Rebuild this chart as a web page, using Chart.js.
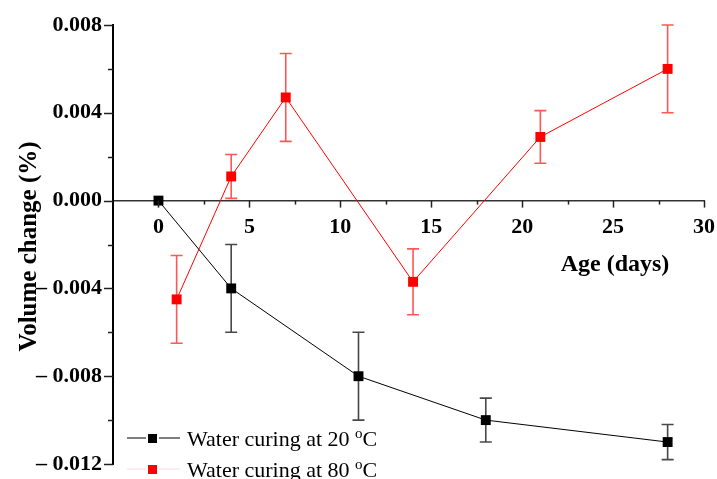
<!DOCTYPE html>
<html>
<head>
<meta charset="utf-8">
<script src="https://cdn.jsdelivr.net/npm/chart.js@4/dist/chart.umd.min.js"></script>
<style>
  html, body { margin: 0; padding: 0; background: #fff; }
  #wrap { width: 717px; height: 479px; }
</style>
</head>
<body>
<div id="wrap"><canvas id="c" width="717" height="479"></canvas></div>
<script>
// Curing age (days) and measured volume change (%) with standard deviations
const ages20 = [0, 4, 11, 18, 28];
const vol20 = [0, -0.004, -0.008, -0.010, -0.011];
const err20 = [0, 0.002, 0.002, 0.001, 0.0008];

const ages80 = [1, 4, 7, 14, 21, 28];
const vol80 = [-0.0045, 0.0011, 0.0047, -0.0037, 0.0029, 0.0060];
const err80 = [0.002, 0.001, 0.002, 0.0015, 0.0012, 0.002];

const seriesNames = ['Water curing at 20 ', 'Water curing at 80 '];
const xTitle = 'Age (days)';
const yTitle = 'Volume change (%)';

const SERIF = "'Liberation Serif', 'Times New Roman', serif";

const toPoints = (xs, ys) => xs.map((x, i) => ({ x: x, y: ys[i] }));

// Error bars, tick marks, axis titles and legend
const decorations = {
  id: 'decorations',
  beforeDatasetsDraw(chart) {
    const ctx = chart.ctx;
    const xs = chart.scales.x, ys = chart.scales.y;
    const sets = [
      { xv: ages20, yv: vol20, ev: err20, color: 'rgba(40,40,40,0.85)' },
      { xv: ages80, yv: vol80, ev: err80, color: 'rgba(255,30,30,0.75)' }
    ];
    ctx.save();
    ctx.lineWidth = 1.6;
    sets.forEach(s => {
      ctx.strokeStyle = s.color;
      s.xv.forEach((xv, i) => {
        if (!s.ev[i]) return;
        const px = xs.getPixelForValue(xv);
        const top = ys.getPixelForValue(s.yv[i] + s.ev[i]);
        const bot = ys.getPixelForValue(s.yv[i] - s.ev[i]);
        ctx.beginPath();
        ctx.moveTo(px, top); ctx.lineTo(px, bot);
        ctx.moveTo(px - 6, top); ctx.lineTo(px + 6, top);
        ctx.moveTo(px - 6, bot); ctx.lineTo(px + 6, bot);
        ctx.stroke();
      });
    });
    ctx.restore();
  },
  afterDraw(chart) {
    const ctx = chart.ctx;
    const xs = chart.scales.x, ys = chart.scales.y;
    const area = chart.chartArea;
    ctx.save();
    // tick marks
    ctx.strokeStyle = '#222';
    ctx.lineWidth = 1.5;
    const axisY = ys.getPixelForValue(0);
    xs.ticks.forEach(t => {
      if (t.value <= xs.min) return;
      const px = Math.round(xs.getPixelForValue(t.value)) + 0.5;
      const major = Math.abs(t.value % 5) < 1e-9;
      ctx.beginPath();
      ctx.moveTo(px, axisY);
      ctx.lineTo(px, axisY + (major ? 7 : 4));
      ctx.stroke();
    });
    ys.ticks.forEach(t => {
      const py = Math.round(ys.getPixelForValue(t.value)) + 0.5;
      const major = Math.round(t.value * 1000) % 4 === 0;
      ctx.beginPath();
      ctx.moveTo(area.left, py);
      ctx.lineTo(area.left - (major ? 9 : 5), py);
      ctx.stroke();
    });

    // axis titles
    ctx.fillStyle = '#000';
    ctx.font = 'bold 24px ' + SERIF;
    ctx.textAlign = 'center';
    ctx.textBaseline = 'alphabetic';
    ctx.fillText(xTitle, 615, 271);
    ctx.font = 'bold 25px ' + SERIF;
    ctx.save();
    ctx.translate(36, (area.top + area.bottom) / 2 + 2);
    ctx.rotate(-Math.PI / 2);
    ctx.fillText(yTitle, 0, 0);
    ctx.restore();

    // legend
    const rows = [
      { y: 438, line: '#000', mark: '#000' },
      { y: 469, line: 'rgba(255,0,0,0.15)', mark: '#ff0000' }
    ];
    rows.forEach((r, i) => {
      ctx.strokeStyle = r.line;
      ctx.lineWidth = 1.2;
      ctx.beginPath();
      ctx.moveTo(127, r.y); ctx.lineTo(146, r.y);
      ctx.moveTo(159, r.y); ctx.lineTo(180, r.y);
      ctx.stroke();
      ctx.fillStyle = r.mark;
      ctx.fillRect(148, r.y - 4, 9, 9);
      ctx.fillStyle = '#000';
      ctx.textAlign = 'left';
      ctx.font = '22px ' + SERIF;
      const base = r.y + 8;
      ctx.fillText(seriesNames[i], 187, base);
      let w = ctx.measureText(seriesNames[i]).width;
      ctx.font = '15px ' + SERIF;
      ctx.fillText('o', 187 + w, base - 8);
      w += ctx.measureText('o').width;
      ctx.font = '22px ' + SERIF;
      ctx.fillText('C', 187 + w, base);
    });
    ctx.restore();
  }
};

new Chart(document.getElementById('c'), {
  type: 'scatter',
  data: {
    datasets: [
      {
        label: seriesNames[0],
        data: toPoints(ages20, vol20),
        showLine: true,
        borderColor: '#000',
        borderWidth: 1,
        backgroundColor: '#000',
        pointStyle: 'rect',
        pointRadius: 7,
        pointBorderWidth: 0,
        tension: 0
      },
      {
        label: seriesNames[1],
        data: toPoints(ages80, vol80),
        showLine: true,
        borderColor: '#ff0000',
        borderWidth: 1,
        backgroundColor: '#ff0000',
        pointStyle: 'rect',
        pointRadius: 7,
        pointBorderWidth: 0,
        tension: 0
      }
    ]
  },
  options: {
    responsive: false,
    animation: false,
    layout: { autoPadding: false, padding: { left: 0, top: 25, right: 13, bottom: 15 } },
    plugins: { legend: { display: false }, tooltip: { enabled: false } },
    scales: {
      x: {
        type: 'linear',
        position: { y: 0 },
        min: -2.5,
        max: 30,
        grid: { display: false, drawTicks: false },
        border: { display: true, color: '#333', width: 1.5 },
        afterFit: s => { s.paddingLeft = 0; s.paddingRight = 0; s.paddingTop = 0; s.paddingBottom = 0; },
        ticks: {
          stepSize: 2.5,
          autoSkip: false,
          maxRotation: 0,
          padding: 14,
          color: '#000',
          font: { family: SERIF, size: 22, weight: 'bold' },
          callback: v => (Math.abs(v % 5) < 1e-9 ? String(v) : '')
        }
      },
      y: {
        type: 'linear',
        min: -0.012,
        max: 0.008,
        grid: { display: false, drawTicks: false },
        border: { display: true, color: '#000', width: 2 },
        afterFit: s => { s.width = 113; s.paddingTop = 0; s.paddingBottom = 0; s.paddingLeft = 0; s.paddingRight = 0; },
        ticks: {
          stepSize: 0.002,
          autoSkip: false,
          padding: 11,
          color: '#000',
          font: { family: SERIF, size: 22, weight: 'bold' },
          callback: v => {
            const m = Math.round(v * 1000);
            if (m % 4 !== 0) return '';
            if (m === 0) return '0.000';
            return m < 0 ? '\u2013 ' + Math.abs(v).toFixed(3) : v.toFixed(3);
          }
        }
      }
    }
  },
  plugins: [decorations]
});
</script>
</body>
</html>
